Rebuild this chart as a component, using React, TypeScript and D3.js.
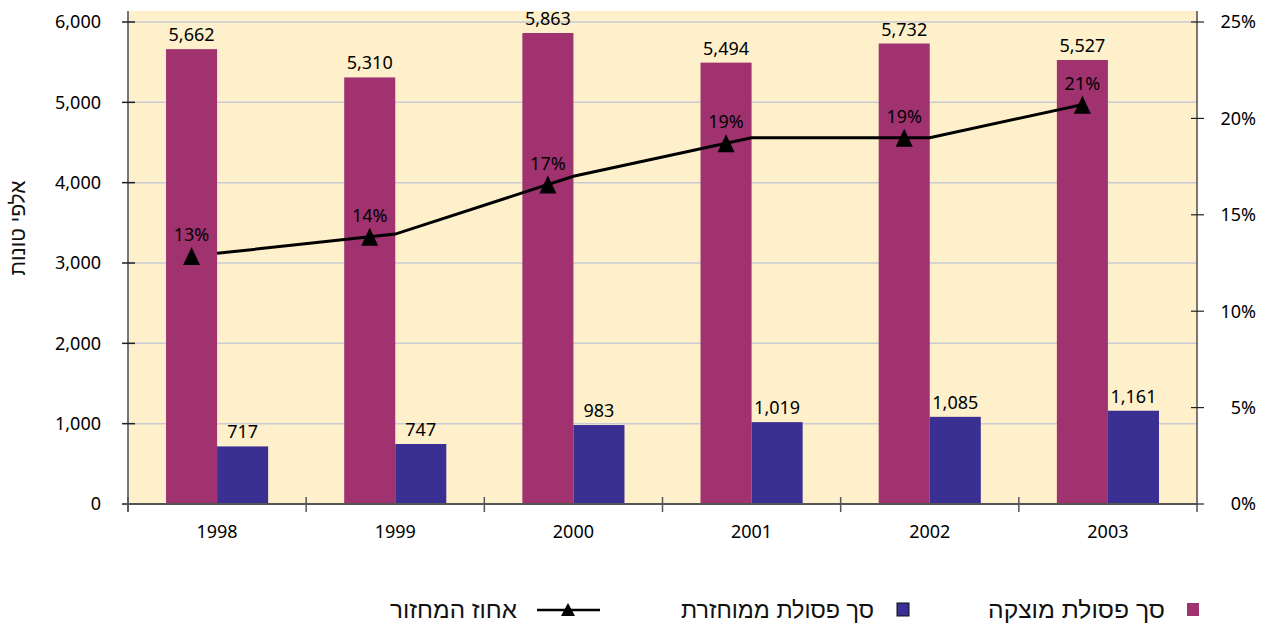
import React from "react";
import * as d3 from "d3";

// years on the x axis
const years = ["1998", "1999", "2000", "2001", "2002", "2003"];
// thousands of tons
const producedWaste = [5662, 5310, 5863, 5494, 5732, 5527];
const recycledWaste = [717, 747, 983, 1019, 1085, 1161];
// recycling rate, percent
const recycleRate = [13, 14, 17, 19, 19, 21];

const leftTicks = [0, 1000, 2000, 3000, 4000, 5000, 6000];
const rightTicks = [0, 5, 10, 15, 20, 25];

const MAGENTA = "#A0326F";
const BLUE = "#3A2F92";
const BG = "#FDF0CA";
const NUM_FONT = "'Noto Sans', 'DejaVu Sans', sans-serif";
const HEB_FONT = "'Liberation Sans', 'DejaVu Sans', sans-serif";

const App = () => {
  const left = 128;
  const right = 1197;
  const top = 11;
  const bottom = 504;

  const x = d3.scaleBand().domain(years).range([left, right]);
  const bw = x.bandwidth();
  const xs = d3
    .scaleBand()
    .domain(["produced", "recycled"])
    .range([0, bw])
    .paddingOuter(0.745);

  const y = d3.scaleLinear().domain([0, 6000]).range([bottom, 22]);
  const yR = d3.scaleLinear().domain([0, 25]).range([bottom, 22]);

  const fmt = d3.format(",");

  // line vertices sit at the middle of each category
  const linePts = years.map((yr, i) => [x(yr) + bw / 2, yR(recycleRate[i])]);
  const line = d3.line();

  // markers sit on the line, above the produced bar
  const markerX = years.map((yr) => x(yr) + xs("produced") + xs.bandwidth() / 2);
  const lineYAt = (px) => {
    let k = 0;
    while (k < linePts.length - 2 && px > linePts[k + 1][0]) k++;
    const [x0, y0] = linePts[k];
    const [x1, y1] = linePts[k + 1];
    return y0 + ((px - x0) / (x1 - x0)) * (y1 - y0);
  };
  const markerY = markerX.map(lineYAt);

  const tri = "M0,-9 L8.5,9 L-8.5,9 Z";

  return (
    <svg width={1268} height={625} style={{ position: "absolute", left: 0, top: 0 }}>
      <defs>
        <clipPath id="lineClip">
          <rect x={markerX[0]} y={0} width={markerX[5] - markerX[0]} height={625} />
        </clipPath>
      </defs>
      <rect x={left} y={top} width={right - left} height={bottom - top} fill={BG} />

      {/* gridlines */}
      {leftTicks
        .filter((t) => t > 0)
        .map((t) => (
          <line key={t} x1={left} x2={right} y1={y(t)} y2={y(t)} stroke="#C9CBD3" strokeWidth={1.5} />
        ))}

      {/* bars */}
      {years.map((yr, i) => (
        <g key={yr}>
          <rect
            x={x(yr) + xs("produced")}
            y={y(producedWaste[i])}
            width={xs.bandwidth()}
            height={bottom - y(producedWaste[i])}
            fill={MAGENTA}
          />
          <rect
            x={x(yr) + xs("recycled")}
            y={y(recycledWaste[i])}
            width={xs.bandwidth()}
            height={bottom - y(recycledWaste[i])}
            fill={BLUE}
          />
          <text
            x={x(yr) + xs("produced") + xs.bandwidth() / 2}
            y={y(producedWaste[i]) - 8}
            textAnchor="middle"
            fontFamily={NUM_FONT}
            fontSize={18}
            fill="#000"
          >
            {fmt(producedWaste[i])}
          </text>
          <text
            x={x(yr) + xs("recycled") + xs.bandwidth() / 2}
            y={y(recycledWaste[i]) - 8}
            textAnchor="middle"
            fontFamily={NUM_FONT}
            fontSize={18}
            fill="#000"
          >
            {fmt(recycledWaste[i])}
          </text>
        </g>
      ))}

      {/* recycling rate line */}
      <path d={line(linePts)} fill="none" stroke="#000" strokeWidth={3} clipPath="url(#lineClip)" />
      {years.map((yr, i) => (
        <g key={"m" + yr}>
          <path d={tri} transform={`translate(${markerX[i]},${markerY[i]})`} fill="#000" />
          <text
            x={markerX[i]}
            y={markerY[i] - 15}
            textAnchor="middle"
            fontFamily={NUM_FONT}
            fontSize={18}
            fill="#000"
          >
            {recycleRate[i] + "%"}
          </text>
        </g>
      ))}

      {/* left axis */}
      <line x1={left} x2={left} y1={top} y2={bottom + 8} stroke="#777" strokeWidth={2} />
      {leftTicks.map((t) => (
        <g key={"l" + t}>
          <line x1={left - 6} x2={left + 7} y1={y(t)} y2={y(t)} stroke="#222" strokeWidth={1.5} />
          <text
            x={101}
            y={y(t)}
            dy="0.35em"
            textAnchor="end"
            fontFamily={NUM_FONT}
            fontSize={18}
            fill="#000"
          >
            {fmt(t)}
          </text>
        </g>
      ))}
      <text
        transform="translate(25,228) rotate(-90)"
        textAnchor="middle"
        fontFamily={HEB_FONT}
        fontSize={21}
        fill="#111"
      >
        אלפי טונות
      </text>

      {/* right axis */}
      <line x1={right} x2={right} y1={top} y2={bottom + 8} stroke="#222" strokeWidth={1.2} />
      {rightTicks.map((t) => (
        <g key={"r" + t}>
          <line x1={right - 6} x2={right + 7} y1={yR(t)} y2={yR(t)} stroke="#222" strokeWidth={1.2} />
          <text
            x={1256}
            y={yR(t)}
            dy="0.35em"
            textAnchor="end"
            fontFamily={NUM_FONT}
            fontSize={18}
            fill="#000"
          >
            {t + "%"}
          </text>
        </g>
      ))}

      {/* bottom axis */}
      <line x1={left - 6} x2={right} y1={bottom} y2={bottom} stroke="#555" strokeWidth={2} />
      {years.map((yr, i) => (
        <g key={"x" + yr}>
          <line x1={x(yr)} x2={x(yr)} y1={bottom - 7} y2={bottom + 8} stroke="#555" strokeWidth={1.5} />
          <text
            x={x(yr) + bw / 2}
            y={538}
            textAnchor="middle"
            fontFamily={NUM_FONT}
            fontSize={18}
            fill="#000"
          >
            {yr}
          </text>
        </g>
      ))}

      {/* legend */}
      <rect x={1187} y={603} width={12} height={13} fill={MAGENTA} />
      <text
        x={1165}
        y={618}
        textAnchor="end"
        fontFamily={HEB_FONT}
        fontSize={24}
        textLength={177}
        lengthAdjust="spacingAndGlyphs"
        fill="#111"
      >
        סך פסולת מוצקה
      </text>
      <rect x={897} y={603} width={12} height={13} fill={BLUE} stroke="#111" strokeWidth={1} />
      <text
        x={874}
        y={618}
        textAnchor="end"
        fontFamily={HEB_FONT}
        fontSize={24}
        textLength={193}
        lengthAdjust="spacingAndGlyphs"
        fill="#111"
      >
        סך פסולת ממוחזרת
      </text>
      <line x1={537} x2={600} y1={610} y2={610} stroke="#000" strokeWidth={2.5} />
      <path d="M0,-7 L7,6 L-7,6 Z" transform="translate(568,610)" fill="#000" />
      <text
        x={517}
        y={618}
        textAnchor="end"
        fontFamily={HEB_FONT}
        fontSize={24}
        textLength={127}
        lengthAdjust="spacingAndGlyphs"
        fill="#111"
      >
        אחוז המחזור
      </text>
    </svg>
  );
};

export default App;
